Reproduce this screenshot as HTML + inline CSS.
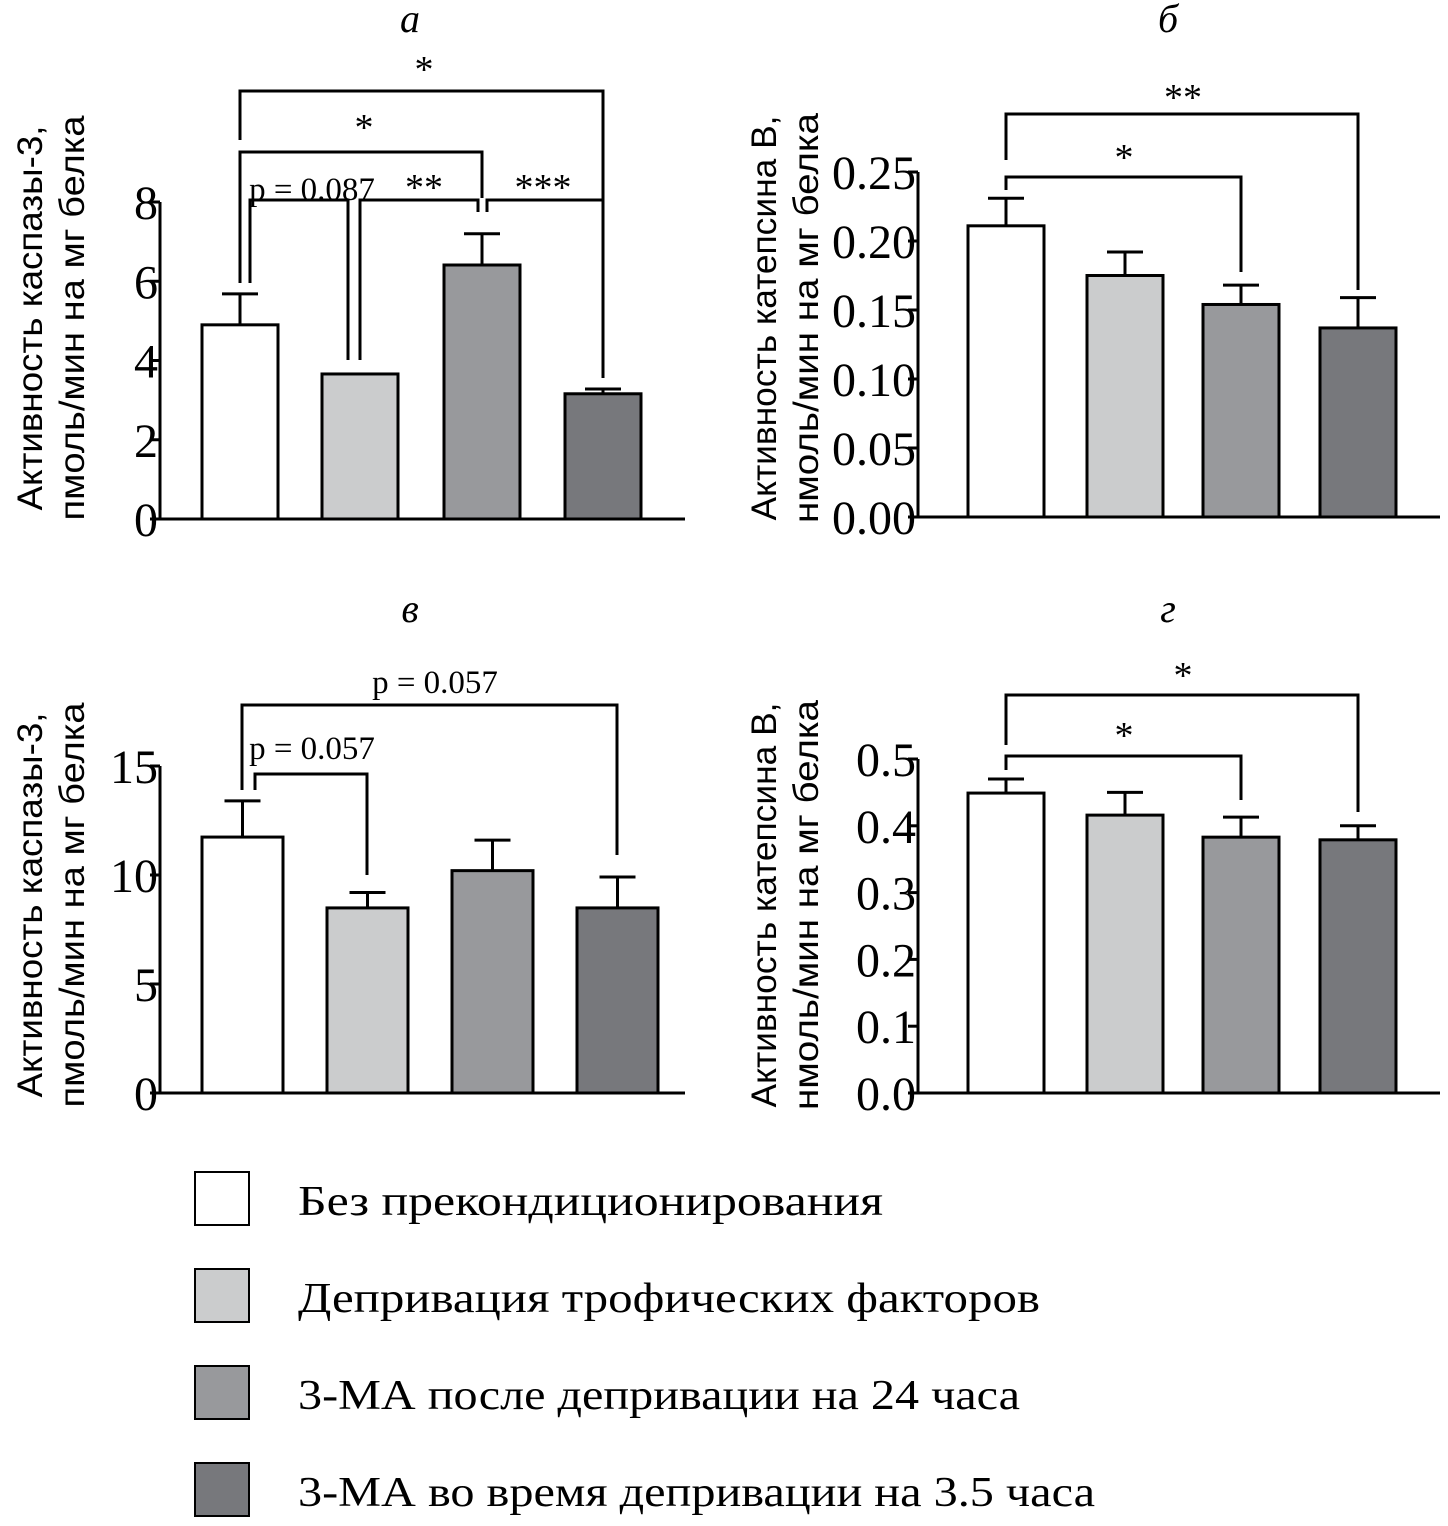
<!DOCTYPE html>
<html><head><meta charset="utf-8"><style>
body{margin:0;background:#fff}
svg{display:block}
text{font-family:"Liberation Serif",serif}
.ax{font-family:"Liberation Sans",sans-serif;font-size:35px}
</style></head><body>
<svg id="s" width="1448" height="1526" xmlns="http://www.w3.org/2000/svg"></svg>
<script>
const NS="http://www.w3.org/2000/svg";
const colors=["#ffffff","#cbcccd","#98999c","#77787c"];
const legendLabels=["Без прекондиционирования","Депривация трофических факторов","3-МА после депривации на 24 часа","3-МА во время депривации на 3.5 часа"];
const legendWidths=[585,742,722,797];
const aValues=[4.9,3.66,6.41,3.16];
const aErrors=[0.78,0,0.79,0.12];
const aTicks=["0","2","4","6","8"];
const bValues=[0.211,0.175,0.154,0.137];
const bErrors=[0.02,0.017,0.014,0.022];
const bTicks=["0.00","0.05","0.10","0.15","0.20","0.25"];
const cValues=[11.74,8.49,10.2,8.49];
const cErrors=[1.66,0.71,1.4,1.42];
const cTicks=["0","5","10","15"];
const dValues=[0.449,0.416,0.383,0.379];
const dErrors=[0.021,0.034,0.03,0.021];
const dTicks=["0.0","0.1","0.2","0.3","0.4","0.5"];
const svg=document.getElementById('s');
function el(tag,attrs,parent){const e=document.createElementNS(NS,tag);for(const k in attrs)e.setAttribute(k,attrs[k]);(parent||svg).appendChild(e);return e;}
function txt(s,attrs,parent){const e=el('text',attrs,parent);e.textContent=s;return e;}
function panel(name,cfg,values,errors,ticks){
  const g=el('g',{});
  
  
  const max=parseFloat(ticks[ticks.length-1]);
  const y=v=>cfg.y0-(v/max)*(cfg.y0-cfg.yTop);
  const ax=el('path',{d:`M${cfg.x0} ${cfg.yTop}V${cfg.y0}H${cfg.xEnd}`,stroke:'#000','stroke-width':3,fill:'none'},g);
  
  
  ticks.forEach(t=>{const v=parseFloat(t),yy=y(v);
    el('line',{x1:cfg.x0-10,x2:cfg.x0,y1:yy,y2:yy,stroke:'#000','stroke-width':3},g);
    const tl=txt(t,{x:cfg.x0-2,y:yy+17,'text-anchor':'end','font-size':48},g);
    
    
  });
  values.forEach((v,i)=>{
    const x=cfg.bx[i],w=cfg.bw;
    const ty=y(v+errors[i]);
    const e=el('path',{d:`M${x+w/2} ${y(v)}V${ty}M${x+w/2-18} ${ty}H${x+w/2+18}`,stroke:'#000','stroke-width':3},g);
    
    
    const r=el('rect',{x:x,y:y(v),width:w,height:cfg.y0-y(v),fill:colors[i],stroke:'#000','stroke-width':3},g);
    
    
  });
  const t=txt(cfg.title,{x:cfg.tx,y:cfg.ty,'text-anchor':'middle','font-size':40,'font-style':'italic'},g);
  
  
  cfg.ylab.forEach((l,k)=>{
    const a=txt(l,{class:'ax','text-anchor':'middle',textLength:cfg.yll[k],lengthAdjust:'spacingAndGlyphs',transform:`translate(${cfg.ylx[k]},${cfg.yly}) rotate(-90)`},g);
    
    
  });
  cfg.br.forEach(b=>{
    const p=el('path',{d:b[0],stroke:'#000','stroke-width':3,fill:'none'},g);
    
    
    const s=txt(b[1],{x:b[2],y:b[3],'text-anchor':'middle','font-size':b[1].startsWith('p')?33:38},g);
    
    
  });
}
const labA=["Активность каспазы-3,","пмоль/мин на мг белка"];
const labB=["Активность катепсина В,","нмоль/мин на мг белка"];
panel('panel-a',{x0:160,y0:519,yTop:202,xEnd:685,bx:[202,322,444,565],bw:76,title:'a',tx:410,ty:32,ylab:labA,ylx:[42,84],yly:318,yll:[385,405],
 br:[["M240 140V91H603V200","*",424,82],["M240 283V152H482V198","*",364,140],["M250 283V200H348V360","p = 0.087",312,200],["M360 360V200H478V212","**",424,200],["M487 212V200H603V378","***",543,200]]},aValues,aErrors,aTicks);
panel('panel-b',{x0:918,y0:517,yTop:172,xEnd:1440,bx:[968,1087,1203,1320],bw:76,title:'б',tx:1168,ty:32,ylab:labB,ylx:[776,818],yly:318,yll:[405,410],
 br:[["M1006 160V114H1358V290","**",1183,110],["M1006 190V177H1241V272","*",1124,170]]},bValues,bErrors,bTicks);
panel('panel-c',{x0:160,y0:1093,yTop:766,xEnd:685,bx:[202,327,452,577],bw:81,title:'в',tx:410,ty:622,ylab:labA,ylx:[42,84],yly:905,yll:[385,405],
 br:[["M242 790V705H617V855","p = 0.057",435,693],["M255 790V774H367V875","p = 0.057",312,759]]},cValues,cErrors,cTicks);
panel('panel-d',{x0:918,y0:1093,yTop:759,xEnd:1440,bx:[968,1087,1203,1320],bw:76,title:'г',tx:1168,ty:622,ylab:labB,ylx:[776,818],yly:905,yll:[405,410],
 br:[["M1006 745V695H1358V812","*",1183,688],["M1006 770V756H1241V800","*",1124,748]]},dValues,dErrors,dTicks);
const lg=el('g',{});


legendLabels.forEach((l,i)=>{
  const yy=1172+i*97;
  const r=el('rect',{x:195,y:yy,width:54,height:53,fill:colors[i],stroke:'#000','stroke-width':2},lg);
  
  
  const t=txt(l,{x:298,y:yy+43,'font-size':42,textLength:legendWidths[i],lengthAdjust:'spacingAndGlyphs'},lg);
  
  
});
</script>
</body></html>
